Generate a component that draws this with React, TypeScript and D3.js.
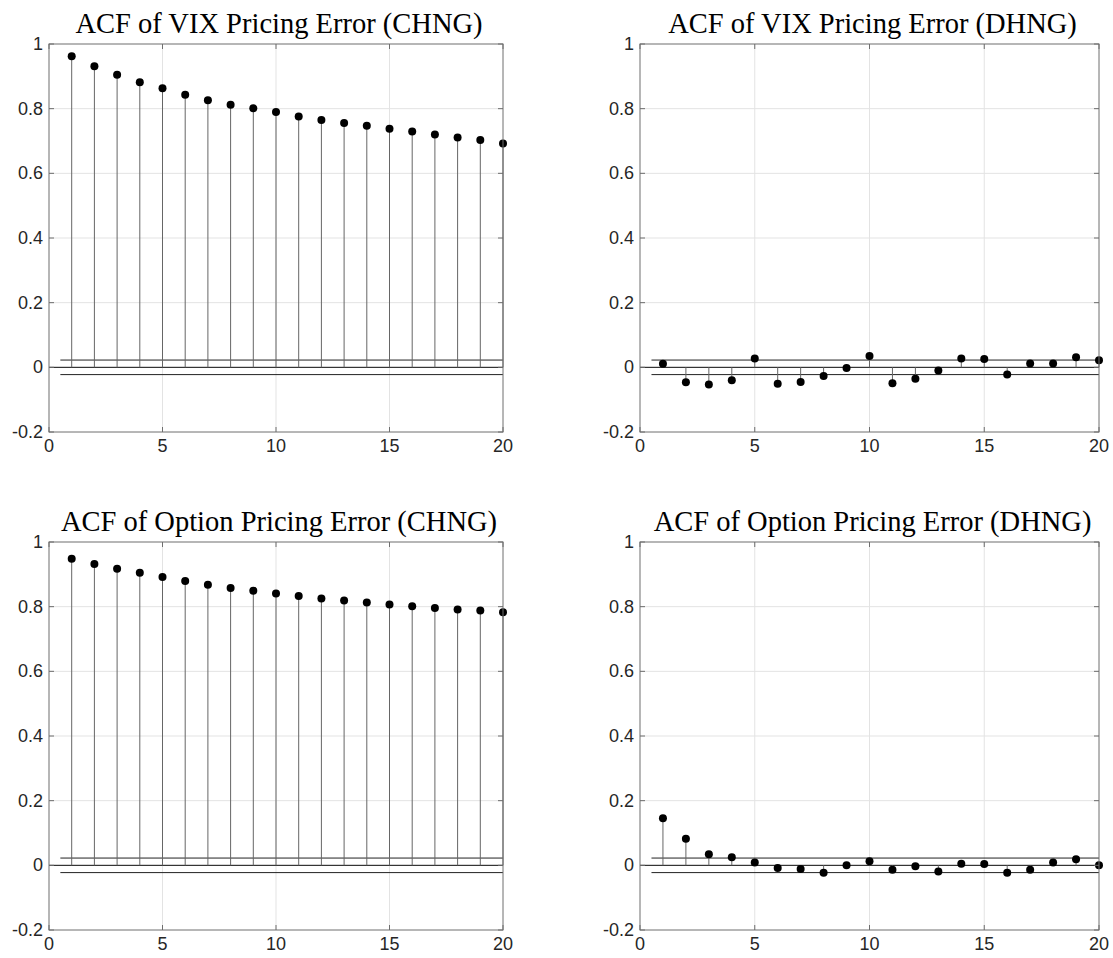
import React from "react";
import * as d3 from "d3";

const lags = d3.range(1, 21);
const vixCHNG = [0.962, 0.931, 0.905, 0.882, 0.863, 0.843, 0.826, 0.812, 0.801, 0.790, 0.776, 0.765, 0.756, 0.747, 0.738, 0.729, 0.720, 0.711, 0.703, 0.692];
const vixDHNG = [0.011, -0.046, -0.053, -0.040, 0.027, -0.051, -0.045, -0.027, -0.002, 0.035, -0.049, -0.035, -0.010, 0.027, 0.026, -0.022, 0.012, 0.012, 0.031, 0.022];
const optCHNG = [0.948, 0.932, 0.917, 0.905, 0.892, 0.879, 0.868, 0.858, 0.849, 0.841, 0.833, 0.825, 0.819, 0.813, 0.807, 0.801, 0.796, 0.791, 0.788, 0.783];
const optDHNG = [0.146, 0.082, 0.034, 0.025, 0.009, -0.008, -0.011, -0.023, 0.0, 0.013, -0.014, -0.003, -0.019, 0.005, 0.004, -0.023, -0.014, 0.009, 0.019, 0.0];
const bound = 0.0225;
const xTicks = [0, 5, 10, 15, 20];
const yTicks = [-0.2, 0, 0.2, 0.4, 0.6, 0.8, 1];
const titles = [
  "ACF of VIX Pricing Error (CHNG)",
  "ACF of VIX Pricing Error (DHNG)",
  "ACF of Option Pricing Error (CHNG)",
  "ACF of Option Pricing Error (DHNG)",
];
const seriesList = [vixCHNG, vixDHNG, optCHNG, optDHNG];

const panels = [
  { x0: 49, x1: 503, y0: 44, y1: 432 },
  { x0: 640, x1: 1099, y0: 44, y1: 432 },
  { x0: 49, x1: 503, y0: 542, y1: 930 },
  { x0: 640, x1: 1099, y0: 542, y1: 930 },
];

function fmt(v: number) {
  if (Math.abs(v) < 1e-9) return "0";
  return String(Math.round(v * 10) / 10);
}

function Panel({ idx }: { idx: number }) {
  const p = panels[idx];
  const data = seriesList[idx];
  const x = d3.scaleLinear().domain([0, 20]).range([p.x0, p.x1]);
  const y = d3.scaleLinear().domain([-0.2, 1]).range([p.y1, p.y0]);
  const axisColor = "#6e6e6e";
  const tl = 5;
  return (
    <g>
      {xTicks.slice(1, -1).map((t) => (
        <line key={"gx" + t} x1={x(t)} x2={x(t)} y1={p.y0} y2={p.y1} stroke="#e3e3e3" strokeWidth={1} />
      ))}
      {yTicks.slice(1, -1).map((t) => (
        <line key={"gy" + t} x1={p.x0} x2={p.x1} y1={y(t)} y2={y(t)} stroke="#e3e3e3" strokeWidth={1} />
      ))}
      <line x1={x(0.5)} x2={x(20)} y1={y(bound)} y2={y(bound)} stroke="#222" strokeWidth={1} />
      <line x1={x(0.5)} x2={x(20)} y1={y(-bound)} y2={y(-bound)} stroke="#222" strokeWidth={1} />
      <line x1={x(0)} x2={x(20)} y1={y(0)} y2={y(0)} stroke="#111" strokeWidth={1} />
      {data.map((v, i) => (
        <line key={"s" + i} x1={x(lags[i])} x2={x(lags[i])} y1={y(0)} y2={y(v)} stroke="#666" strokeWidth={1} />
      ))}
      {data.map((v, i) => (
        <circle key={"c" + i} cx={x(lags[i])} cy={y(v)} r={4} fill="#000" />
      ))}
      <rect x={p.x0} y={p.y0} width={p.x1 - p.x0} height={p.y1 - p.y0} fill="none" stroke={axisColor} strokeWidth={1} />
      {yTicks.map((t) => (
        <g key={"ty" + t}>
          <line x1={p.x0} x2={p.x0 + tl} y1={y(t)} y2={y(t)} stroke={axisColor} />
          <line x1={p.x1} x2={p.x1 - tl} y1={y(t)} y2={y(t)} stroke={axisColor} />
          <text x={p.x0 - 6} y={y(t)} textAnchor="end" dominantBaseline="central" fontFamily="'Liberation Sans', Arial, sans-serif" fontSize={18} fill="#262626">
            {fmt(t)}
          </text>
        </g>
      ))}
      {xTicks.map((t) => (
        <g key={"tx" + t}>
          <line x1={x(t)} x2={x(t)} y1={p.y1} y2={p.y1 - tl} stroke={axisColor} />
          <line x1={x(t)} x2={x(t)} y1={p.y0} y2={p.y0 + tl} stroke={axisColor} />
          <text x={x(t)} y={p.y1 + 20} textAnchor="middle" fontFamily="'Liberation Sans', Arial, sans-serif" fontSize={18} fill="#262626">
            {fmt(t)}
          </text>
        </g>
      ))}
      <text x={(p.x0 + p.x1) / 2 + 3} y={p.y0 - 11} textAnchor="middle" fontFamily="'Liberation Serif', 'Times New Roman', serif" fontSize={28.5} fill="#000">
        {titles[idx]}
      </text>
    </g>
  );
}

export default function App() {
  return (
    <svg width={1113} height={958} style={{ position: "absolute", left: 0, top: 0, background: "#fff" }}>
      <rect width={1113} height={958} fill="#fff" />
      {[0, 1, 2, 3].map((i) => (
        <Panel key={i} idx={i} />
      ))}
    </svg>
  );
}
